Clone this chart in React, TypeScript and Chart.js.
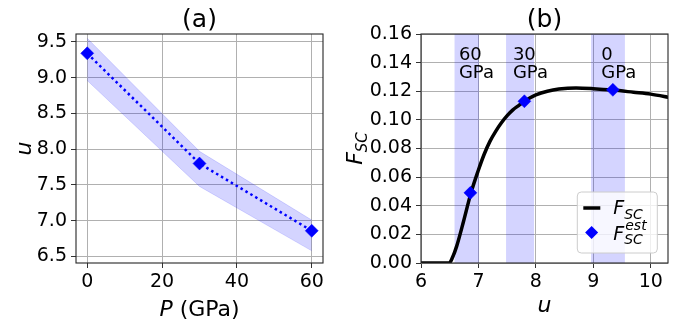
import React, { useEffect, useRef } from 'react';
import { Chart, registerables } from 'chart.js';

Chart.register(...registerables);

// ---------- data ----------
const pressures = [0, 30, 60];
const uEstimated = [9.34, 7.8, 6.86];
const uLower = [8.96, 7.48, 6.58];
const uUpper = [9.55, 7.97, 7.01];
const fEstimated = [0.121, 0.113, 0.049];

const curveU = [6.0, 6.49, 6.55, 6.62, 6.74, 6.87, 7.0, 7.1, 7.2, 7.3, 7.4, 7.5, 7.6, 7.7, 7.8, 7.9, 8.0, 8.2, 8.4, 8.7, 9.0, 9.34, 9.7, 10.0, 10.35];
const curveF = [0, 0, 0.004, 0.0116, 0.029, 0.049, 0.065, 0.076, 0.085, 0.092, 0.098, 0.103, 0.107, 0.11, 0.113, 0.1155, 0.1175, 0.12, 0.1215, 0.1223, 0.1218, 0.1208, 0.1193, 0.118, 0.1155];

const pressureTicks = [0, 20, 40, 60];
const uTicksA = [6.5, 7.0, 7.5, 8.0, 8.5, 9.0, 9.5];
const uTicksB = [6, 7, 8, 9, 10];
const fTicks = [0, 0.02, 0.04, 0.06, 0.08, 0.1, 0.12, 0.14, 0.16];

// ---------- styles ----------
const FONT = '"DejaVu Sans", sans-serif';
const BLUE = '#0000ff';
const BAND = 'rgba(0,0,255,0.17)';
const GRID = '#b0b0b0';
const TICK_SIZE = 19;
const LABEL_SIZE = 22;
const TITLE_SIZE = 25;

const font = (size: number, italic = false) => `${italic ? 'italic ' : ''}${size}px ${FONT}`;

type Seg = { t: string; size: number; italic?: boolean; dy?: number; dx?: number };

function segsWidth(ctx: CanvasRenderingContext2D, segs: Seg[]) {
  let w = 0;
  for (const s of segs) {
    ctx.font = font(s.size, s.italic);
    w += ctx.measureText(s.t).width + (s.dx || 0);
  }
  return w;
}

function drawSegs(ctx: CanvasRenderingContext2D, segs: Seg[], x: number, y: number, align: 'left' | 'center') {
  const w = segsWidth(ctx, segs);
  let cx = align === 'center' ? x - w / 2 : x;
  ctx.textAlign = 'left';
  ctx.textBaseline = 'alphabetic';
  for (const s of segs) {
    ctx.font = font(s.size, s.italic);
    cx += s.dx || 0;
    ctx.fillText(s.t, cx, y + (s.dy || 0));
    cx += ctx.measureText(s.t).width;
  }
}

function frame(ctx: CanvasRenderingContext2D, a: any) {
  ctx.strokeStyle = '#262626';
  ctx.lineWidth = 1.1;
  ctx.strokeRect(a.left, a.top, a.right - a.left, a.bottom - a.top);
}

const decorA = {
  id: 'decorA',
  afterDraw(chart: any) {
    const { ctx, chartArea: a } = chart;
    ctx.save();
    frame(ctx, a);
    ctx.fillStyle = '#000';
    const cx = (a.left + a.right) / 2;
    drawSegs(ctx, [{ t: '(a)', size: TITLE_SIZE }], cx, 26.5, 'center');
    drawSegs(ctx, [{ t: 'P', size: LABEL_SIZE, italic: true }, { t: ' (GPa)', size: LABEL_SIZE }], cx, 316, 'center');
    ctx.translate(31, (a.top + a.bottom) / 2);
    ctx.rotate(-Math.PI / 2);
    drawSegs(ctx, [{ t: 'u', size: LABEL_SIZE, italic: true }], 0, 0, 'center');
    ctx.restore();
  },
};

const decorB = {
  id: 'decorB',
  afterDraw(chart: any) {
    const { ctx, chartArea: a, scales } = chart;
    const xs = scales.x;
    const ys = scales.y;
    ctx.save();
    frame(ctx, a);
    ctx.fillStyle = '#000';
    const cx = (a.left + a.right) / 2;
    drawSegs(ctx, [{ t: '(b)', size: TITLE_SIZE }], cx, 26.5, 'center');
    drawSegs(ctx, [{ t: 'u', size: LABEL_SIZE, italic: true }], cx, 312, 'center');

    // band annotations
    const y1 = ys.getPixelForValue(0.142);
    pressures.forEach((p, i) => {
      const x = xs.getPixelForValue(uEstimated[i] - 0.2);
      drawSegs(ctx, [{ t: String(p), size: 18 }], x, y1, 'left');
      drawSegs(ctx, [{ t: 'GPa', size: 18 }], x, y1 + 18, 'left');
    });

    // legend
    const bw = 80, bh = 61;
    const bx = a.right - 10.7 - bw;
    const by = a.bottom - 10 - bh;
    ctx.beginPath();
    (ctx as any).roundRect(bx, by, bw, bh, 4);
    ctx.fillStyle = 'rgba(255,255,255,0.8)';
    ctx.fill();
    ctx.strokeStyle = '#cccccc';
    ctx.lineWidth = 1;
    ctx.stroke();

    ctx.beginPath();
    ctx.moveTo(bx + 6, by + 16);
    ctx.lineTo(bx + 23, by + 16);
    ctx.strokeStyle = '#000';
    ctx.lineWidth = 3.5;
    ctx.stroke();

    const dxm = bx + 14.3, dym = by + 40.4, r = 6.5;
    ctx.beginPath();
    ctx.moveTo(dxm, dym - r);
    ctx.lineTo(dxm + r, dym);
    ctx.lineTo(dxm, dym + r);
    ctx.lineTo(dxm - r, dym);
    ctx.closePath();
    ctx.fillStyle = BLUE;
    ctx.fill();

    ctx.fillStyle = '#000';
    drawSegs(ctx, [{ t: 'F', size: 19, italic: true }, { t: 'SC', size: 14, italic: true, dy: 5 }], bx + 36, by + 22, 'left');
    ctx.font = font(19, true);
    const fw = ctx.measureText('F').width;
    drawSegs(ctx, [{ t: 'F', size: 19, italic: true }], bx + 36, by + 47.7, 'left');
    drawSegs(ctx, [{ t: 'est', size: 14, italic: true }], bx + 36 + fw + 1, by + 37.7, 'left');
    drawSegs(ctx, [{ t: 'SC', size: 14, italic: true }], bx + 36 + fw, by + 52.3, 'left');

    // y label
    ctx.translate(17, (a.top + a.bottom) / 2);
    ctx.rotate(-Math.PI / 2);
    drawSegs(ctx, [{ t: 'F', size: LABEL_SIZE, italic: true }, { t: 'SC', size: 15, italic: true, dy: 5 }], 0, 0, 'center');
    ctx.restore();
  },
};

function axis(min: number, max: number, values: number[], fmt: (v: number) => string, isX: boolean) {
  return {
    type: 'linear' as const,
    min,
    max,
    afterBuildTicks: (s: any) => {
      s.ticks = values.map((v) => ({ value: v }));
    },
    afterFit: (s: any) => {
      if (isX) s.height = 59;
      else s.width = 76;
    },
    ticks: {
      font: { family: FONT, size: TICK_SIZE },
      color: '#000',
      padding: isX ? 3 : 4,
      maxRotation: 0,
      autoSkip: false,
      callback: (v: any) => fmt(Number(v)),
    },
    grid: { color: GRID, lineWidth: 1, tickColor: '#333', tickLength: 5, tickWidth: 1 },
    border: { display: false },
  };
}

const baseOptions = {
  responsive: false,
  animation: false as const,
  devicePixelRatio: 1,
  layout: { padding: { left: 0, right: 22, top: 34, bottom: 0 } },
  plugins: { legend: { display: false }, tooltip: { enabled: false } },
};

export default function App() {
  const refA = useRef<HTMLCanvasElement>(null);
  const refB = useRef<HTMLCanvasElement>(null);

  useEffect(() => {
    const chartA = new Chart(refA.current!, {
      type: 'line',
      data: {
        datasets: [
          {
            data: pressures.map((p, i) => ({ x: p, y: uEstimated[i] })),
            borderColor: BLUE,
            borderWidth: 2.5,
            borderDash: [2.5, 3.2],
            pointStyle: 'rectRot',
            pointRadius: 6.5,
            pointBackgroundColor: BLUE,
            pointBorderColor: BLUE,
            pointBorderWidth: 0.5,
            fill: false,
            order: 0,
          },
          {
            data: pressures.map((p, i) => ({ x: p, y: uUpper[i] })),
            borderColor: BAND,
            borderWidth: 0.8,
            backgroundColor: BAND,
            pointRadius: 0,
            fill: '+1',
            order: 1,
          },
          {
            data: pressures.map((p, i) => ({ x: p, y: uLower[i] })),
            borderColor: BAND,
            borderWidth: 0.8,
            pointRadius: 0,
            fill: false,
            order: 1,
          },
        ],
      },
      options: {
        ...baseOptions,
        scales: {
          x: axis(-3, 63, pressureTicks, (v) => String(v), true),
          y: axis(6.41, 9.61, uTicksA, (v) => v.toFixed(1), false),
        },
      } as any,
      plugins: [decorA],
    });

    const fMax = fTicks[fTicks.length - 1];
    const chartB = new Chart(refB.current!, {
      type: 'line',
      data: {
        datasets: [
          {
            data: uEstimated.map((u, i) => ({ x: u, y: fEstimated[i] })),
            showLine: false,
            pointStyle: 'rectRot',
            pointRadius: 6.5,
            pointBackgroundColor: BLUE,
            pointBorderColor: BLUE,
            pointBorderWidth: 0.5,
            order: 0,
          },
          {
            data: curveU.map((u, i) => ({ x: u, y: curveF[i] })),
            borderColor: '#000',
            borderWidth: 3.5,
            pointRadius: 0,
            cubicInterpolationMode: 'monotone',
            fill: false,
            order: 1,
          },
          ...pressures.map((_, i) => ({
            data: [
              { x: uLower[i], y: fMax },
              { x: uUpper[i], y: fMax },
            ],
            borderWidth: 0,
            borderColor: 'rgba(0,0,0,0)',
            backgroundColor: BAND,
            pointRadius: 0,
            fill: 'start',
            order: 2,
          })),
        ],
      },
      options: {
        ...baseOptions,
        scales: {
          x: axis(6, 10.3, uTicksB, (v) => String(v), true),
          y: axis(0, fMax, fTicks, (v) => v.toFixed(2), false),
        },
      } as any,
      plugins: [decorB],
    });

    return () => {
      chartA.destroy();
      chartB.destroy();
    };
  }, []);

  return (
    <div style={{ position: 'absolute', left: 0, top: 0, width: 690, height: 322, background: '#fff' }}>
      <canvas ref={refA} width={345} height={322} style={{ position: 'absolute', left: 0, top: 0 }} />
      <canvas ref={refB} width={345} height={322} style={{ position: 'absolute', left: 345, top: 0 }} />
    </div>
  );
}
